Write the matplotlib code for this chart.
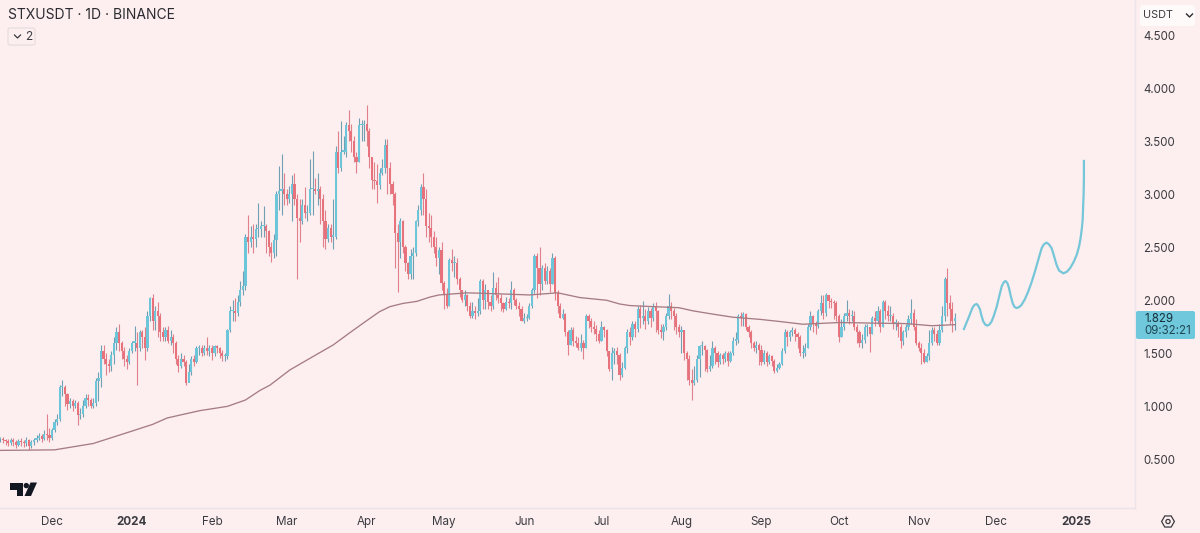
import matplotlib
matplotlib.use("Agg")
import matplotlib.dates as mdates
import matplotlib.pyplot as plt
import pandas as pd
from matplotlib.patches import Circle, FancyBboxPatch, Polygon, RegularPolygon

plt.rcParams["font.family"] = ["Inter", "DejaVu Sans"]

# Daily candles, first bar is 2023-11-11
closes = [
    .69, .68, .67, .65, .68, .66, .64, .67, .66, .65,
    .68, .63, .66, .68, .70, .72, .69, .74, .73, .70,
    .78, .85, .88, 1.18, 1.18, 1.12, 1.02, 1.05, 1.00, 1.03,
    .92, .93, 1.00, 1.08, 1.06, 1.00, 1.03, 1.24, 1.27, 1.52,
    1.45, 1.40, 1.38, 1.48, 1.60, 1.70, 1.60, 1.52, 1.45, 1.42,
    1.52, 1.60, 1.60, 1.55, 1.70, 1.65, 1.55, 1.85, 2.02, 1.80,
    1.90, 1.85, 1.70, 1.65, 1.72, 1.62, 1.65, 1.60, 1.45, 1.38,
    1.45, 1.42, 1.22, 1.32, 1.45, 1.42, 1.55, 1.55, 1.50, 1.55,
    1.52, 1.55, 1.50, 1.57, 1.55, 1.50, 1.47, 1.47, 1.72, 1.90,
    1.90, 1.88, 1.98, 2.10, 2.13, 2.60, 2.55, 2.60, 2.58, 2.67,
    2.67, 2.70, 2.70, 2.65, 2.50, 2.45, 2.57, 3.00, 3.03, 3.05,
    3.00, 2.95, 3.00, 3.10, 2.95, 2.78, 2.75, 2.90, 2.82, 2.82,
    3.05, 3.05, 3.03, 3.05, 2.95, 2.75, 2.58, 2.68, 2.60, 2.60,
    3.40, 3.25, 3.40, 3.40, 3.65, 3.60, 3.50, 3.35, 3.30, 3.65,
    3.65, 3.66, 3.60, 3.35, 3.13, 3.12, 3.09, 3.20, 3.25, 3.46,
    3.25, 3.10, 3.00, 2.63, 2.55, 2.75, 2.50, 2.35, 2.25, 2.42,
    2.45, 2.75, 2.85, 3.07, 2.95, 2.70, 2.68, 2.60, 2.50, 2.40,
    2.47, 2.16, 2.05, 1.95, 2.38, 2.35, 2.35, 2.20, 2.10, 2.00,
    2.05, 1.95, 1.85, 1.90, 1.88, 1.90, 2.18, 2.00, 2.10, 1.98,
    1.95, 2.12, 2.05, 2.02, 1.97, 1.92, 1.98, 1.97, 2.10, 2.00,
    1.95, 1.92, 1.80, 1.83, 1.83, 1.95, 2.10, 2.42, 2.30, 2.15,
    2.30, 2.18, 2.28, 2.15, 2.40, 2.07, 1.95, 1.83, 1.87, 1.70,
    1.58, 1.72, 1.62, 1.60, 1.55, 1.60, 1.55, 1.85, 1.80, 1.75,
    1.73, 1.68, 1.62, 1.75, 1.72, 1.52, 1.35, 1.50, 1.52, 1.48,
    1.30, 1.36, 1.55, 1.70, 1.65, 1.78, 1.73, 1.92, 1.83, 1.85,
    1.80, 1.90, 1.83, 1.95, 1.90, 1.72, 1.70, 1.75, 1.85, 1.95,
    1.90, 1.85, 1.75, 1.70, 1.72, 1.50, 1.45, 1.25, 1.22, 1.25,
    1.45, 1.57, 1.57, 1.53, 1.35, 1.38, 1.55, 1.50, 1.42, 1.48,
    1.45, 1.50, 1.43, 1.50, 1.62, 1.63, 1.85, 1.83, 1.87, 1.75,
    1.70, 1.60, 1.55, 1.58, 1.53, 1.42, 1.50, 1.42, 1.47, 1.43,
    1.33, 1.36, 1.40, 1.52, 1.70, 1.65, 1.70, 1.72, 1.68, 1.65,
    1.50, 1.50, 1.55, 1.75, 1.85, 1.78, 1.76, 1.90, 1.97, 1.88,
    2.05, 1.99, 1.98, 1.97, 1.85, 1.65, 1.75, 1.85, 1.88, 1.85,
    1.85, 1.75, 1.70, 1.60, 1.63, 1.75, 1.75, 1.68, 1.83, 1.80,
    1.90, 1.75, 1.98, 1.90, 1.85, 1.85, 1.78, 1.78, 1.75, 1.62,
    1.70, 1.75, 1.82, 1.88, 1.75, 1.60, 1.55, 1.50, 1.42, 1.47,
    1.60, 1.72, 1.68, 1.60, 1.72, 1.85, 2.20, 1.97, 1.92, 1.80, 1.829,
]
highs = [
    .71, .71, .69, .69, .70, .70, .68, .69, .70, .68,
    .71, .69, .68, .70, .73, .75, .74, .78, .93, .80,
    .80, .88, .93, 1.20, 1.25, 1.20, 1.13, 1.08, 1.07, 1.06,
    1.05, .98, 1.06, 1.12, 1.12, 1.08, 1.08, 1.27, 1.32, 1.58,
    1.58, 1.50, 1.45, 1.52, 1.65, 1.75, 1.78, 1.62, 1.56, 1.48,
    1.55, 1.62, 1.76, 1.70, 1.72, 1.72, 1.75, 1.90, 2.03, 2.06,
    1.95, 1.98, 1.88, 1.75, 1.75, 1.76, 1.72, 1.68, 1.62, 1.48,
    1.50, 1.48, 1.44, 1.40, 1.47, 1.48, 1.57, 1.58, 1.58, 1.58,
    1.65, 1.58, 1.58, 1.58, 1.58, 1.56, 1.53, 1.50, 1.73, 1.95,
    2.00, 2.02, 2.05, 2.18, 2.28, 2.62, 2.80, 2.70, 2.72, 2.72,
    2.92, 2.75, 2.89, 2.72, 2.66, 2.55, 2.62, 3.03, 3.27, 3.38,
    3.20, 3.05, 3.08, 3.18, 3.20, 3.00, 2.95, 2.95, 3.07, 2.90,
    3.33, 3.41, 3.15, 3.20, 3.08, 3.00, 2.85, 2.72, 2.72, 2.95,
    3.45, 3.60, 3.69, 3.55, 3.68, 3.79, 3.66, 3.55, 3.40, 3.72,
    3.70, 3.70, 3.84, 3.62, 3.35, 3.30, 3.28, 3.25, 3.33, 3.52,
    3.52, 3.30, 3.12, 3.02, 2.72, 2.78, 2.76, 2.52, 2.36, 2.48,
    2.50, 2.76, 2.90, 3.10, 3.20, 3.05, 2.82, 2.80, 2.65, 2.60,
    2.50, 2.55, 2.18, 2.12, 2.40, 2.48, 2.42, 2.40, 2.22, 2.10,
    2.10, 2.06, 1.98, 1.98, 1.95, 2.02, 2.20, 2.20, 2.15, 2.08,
    2.05, 2.27, 2.17, 2.22, 2.06, 1.98, 2.03, 2.02, 2.18, 2.12,
    2.02, 1.98, 1.95, 1.88, 1.87, 1.97, 2.12, 2.44, 2.45, 2.50,
    2.33, 2.35, 2.32, 2.30, 2.45, 2.42, 2.10, 1.97, 1.92, 1.88,
    1.72, 1.75, 1.75, 1.66, 1.65, 1.68, 1.63, 1.87, 1.87, 1.83,
    1.80, 1.77, 1.72, 1.80, 1.76, 1.73, 1.52, 1.56, 1.55, 1.56,
    1.50, 1.42, 1.57, 1.73, 1.75, 1.80, 1.80, 1.95, 1.96, 1.99,
    1.92, 1.94, 1.93, 1.97, 1.98, 1.91, 1.78, 1.78, 1.88, 2.06,
    1.98, 1.93, 1.88, 1.78, 1.76, 1.72, 1.52, 1.48, 1.35, 1.38,
    1.48, 1.58, 1.62, 1.58, 1.54, 1.48, 1.62, 1.57, 1.52, 1.50,
    1.50, 1.52, 1.52, 1.52, 1.65, 1.70, 1.87, 1.89, 1.89, 1.88,
    1.77, 1.72, 1.62, 1.62, 1.60, 1.58, 1.53, 1.52, 1.49, 1.48,
    1.45, 1.40, 1.42, 1.55, 1.73, 1.72, 1.72, 1.75, 1.74, 1.70,
    1.67, 1.58, 1.60, 1.78, 1.90, 1.86, 1.80, 1.92, 2.05, 2.05,
    2.07, 2.05, 2.02, 2.00, 1.99, 1.87, 1.82, 1.88, 2.00, 1.92,
    1.91, 1.90, 1.78, 1.72, 1.68, 1.78, 1.78, 1.75, 1.85, 1.90,
    1.95, 1.92, 2.00, 2.00, 1.96, 1.95, 1.88, 1.82, 1.80, 1.78,
    1.72, 1.78, 1.86, 2.01, 1.92, 1.82, 1.62, 1.60, 1.54, 1.50,
    1.72, 1.75, 1.75, 1.72, 1.78, 1.95, 2.22, 2.30, 2.05, 1.98, 1.88,
]
lows = [
    .66, .65, .64, .63, .64, .63, .61, .63, .63, .62,
    .63, .59, .61, .64, .66, .68, .66, .68, .68, .66,
    .68, .76, .82, .86, 1.10, 1.00, .97, .98, .96, .98,
    .82, .88, .90, .98, 1.00, .98, .98, 1.00, 1.05, 1.18,
    1.40, 1.30, 1.32, 1.33, 1.40, 1.53, 1.52, 1.45, 1.38, 1.35,
    1.40, 1.50, 1.52, 1.20, 1.52, 1.55, 1.44, 1.52, 1.80, 1.72,
    1.72, 1.65, 1.62, 1.62, 1.62, 1.60, 1.58, 1.50, 1.40, 1.32,
    1.36, 1.38, 1.20, 1.245, 1.30, 1.38, 1.41, 1.48, 1.47, 1.48,
    1.48, 1.47, 1.44, 1.47, 1.50, 1.46, 1.43, 1.43, 1.45, 1.70,
    1.80, 1.80, 1.85, 1.95, 2.05, 2.10, 2.45, 2.50, 2.45, 2.50,
    2.60, 2.60, 2.60, 2.45, 2.42, 2.36, 2.40, 2.42, 2.85, 2.80,
    2.90, 2.90, 2.92, 2.75, 2.90, 2.20, 2.55, 2.72, 2.78, 2.75,
    2.80, 2.80, 3.00, 2.90, 2.72, 2.50, 2.48, 2.55, 2.55, 2.48,
    2.58, 3.20, 3.22, 3.38, 3.35, 3.50, 3.40, 3.30, 3.20, 3.30,
    3.50, 3.50, 3.45, 3.25, 3.05, 3.05, 2.92, 3.05, 3.18, 3.20,
    3.00, 3.00, 2.90, 2.30, 2.08, 2.40, 2.45, 2.28, 2.20, 2.20,
    2.20, 2.42, 2.70, 2.80, 2.80, 2.60, 2.55, 2.50, 2.45, 2.32,
    2.25, 2.10, 1.92, 1.93, 1.95, 2.28, 2.22, 2.15, 2.03, 1.98,
    1.95, 1.90, 1.83, 1.83, 1.82, 1.85, 1.87, 1.92, 1.92, 1.92,
    1.90, 1.92, 2.00, 1.97, 1.90, 1.89, 1.91, 1.93, 1.92, 1.96,
    1.92, 1.85, 1.80, 1.79, 1.80, 1.82, 1.93, 2.07, 2.02, 2.05,
    2.10, 2.15, 2.15, 2.08, 2.15, 2.00, 1.88, 1.83, 1.82, 1.66,
    1.48, 1.58, 1.57, 1.56, 1.53, 1.52, 1.45, 1.55, 1.74, 1.70,
    1.68, 1.62, 1.60, 1.62, 1.65, 1.47, 1.33, 1.25, 1.40, 1.40,
    1.25, 1.28, 1.35, 1.50, 1.58, 1.63, 1.65, 1.70, 1.74, 1.78,
    1.73, 1.78, 1.75, 1.80, 1.70, 1.68, 1.64, 1.63, 1.72, 1.82,
    1.82, 1.72, 1.68, 1.65, 1.50, 1.44, 1.25, 1.20, 1.06, 1.20,
    1.23, 1.28, 1.48, 1.33, 1.32, 1.33, 1.36, 1.40, 1.37, 1.40,
    1.40, 1.42, 1.38, 1.42, 1.48, 1.58, 1.60, 1.76, 1.76, 1.72,
    1.65, 1.55, 1.52, 1.50, 1.39, 1.39, 1.40, 1.38, 1.40, 1.38,
    1.31, 1.32, 1.35, 1.39, 1.50, 1.57, 1.62, 1.66, 1.62, 1.55,
    1.47, 1.46, 1.47, 1.55, 1.72, 1.70, 1.68, 1.74, 1.86, 1.82,
    1.85, 1.93, 1.93, 1.82, 1.80, 1.61, 1.65, 1.72, 1.80, 1.78,
    1.80, 1.72, 1.60, 1.56, 1.55, 1.60, 1.66, 1.51, 1.68, 1.76,
    1.78, 1.70, 1.75, 1.82, 1.80, 1.80, 1.73, 1.72, 1.65, 1.55,
    1.58, 1.65, 1.72, 1.78, 1.72, 1.58, 1.52, 1.40, 1.41, 1.42,
    1.44, 1.58, 1.62, 1.58, 1.58, 1.70, 1.80, 1.85, 1.78, 1.70, 1.72,
]

# Moving average, as day offsets from the first bar
ma_days = [0, 21, 26, 36, 43.7, 51.4, 59, 64.6, 70, 77.4, 88, 95, 100.6, 104.5, 112.2, 120, 129, 135.5,
           142, 147, 151, 156, 161.5, 166.5, 170, 175.5, 181, 193.7, 205, 216, 224.7, 235, 240, 244,
           253, 263, 268.5, 276, 284, 294.4, 302, 311, 325, 351, 361, 370]
ma_values = [.585, .59, .61, .65, .71, .77, .83, .89, .92, .96, 1.0, 1.06, 1.15, 1.20, 1.343, 1.453, 1.579, 1.695,
             1.808, 1.893, 1.94, 1.97, 1.99, 2.03, 2.05, 2.06, 2.07, 2.06, 2.05, 2.07, 2.025, 2.0, 1.965, 1.95,
             1.94, 1.93, 1.90, 1.87, 1.84, 1.82, 1.80, 1.774, 1.79, 1.78, 1.76, 1.77]

# Hand drawn projection
path_days = [373.5, 374.3, 375.2, 376.1, 376.9, 377.6, 378.4, 379.0, 379.7, 380.3, 381.0, 381.8, 382.5, 383.3,
             384.2, 385.1, 386.2, 387.2, 388.1, 388.9, 389.6, 390.3, 390.9, 391.6, 392.4, 393.1, 393.9, 394.8,
             395.8, 397.1, 398.4, 399.7, 401.0, 402.3, 403.6, 404.5, 405.5, 406.4, 407.5, 408.4, 409.4, 410.4,
             412.0, 413.3, 414.6, 415.9, 417.2, 418.1, 418.7, 419.2, 419.5, 419.7, 419.9, 420.0, 420.0]
path_values = [1.729, 1.777, 1.830, 1.887, 1.934, 1.956, 1.965, 1.949, 1.915, 1.855, 1.799, 1.770, 1.761, 1.770,
               1.799, 1.855, 1.940, 2.041, 2.129, 2.169, 2.182, 2.163, 2.122, 2.044, 1.971, 1.937, 1.927, 1.934,
               1.956, 2.009, 2.081, 2.169, 2.270, 2.380, 2.490, 2.528, 2.543, 2.528, 2.490, 2.418, 2.333, 2.279,
               2.254, 2.267, 2.301, 2.355, 2.427, 2.506, 2.584, 2.678, 2.757, 2.883, 3.008, 3.165, 3.313]

tick_dates = ["2023-12-01", "2024-01-01", "2024-02-01", "2024-03-01", "2024-04-01", "2024-05-01", "2024-06-01",
              "2024-07-01", "2024-08-01", "2024-09-01", "2024-10-01", "2024-11-01", "2024-12-01", "2025-01-01"]
tick_labels = ["Dec", "2024", "Feb", "Mar", "Apr", "May", "Jun", "Jul", "Aug", "Sep", "Oct", "Nov", "Dec", "2025"]
price_ticks = [0.5, 1.0, 1.5, 2.0, 2.5, 3.0, 3.5, 4.0, 4.5]

bg = "#fdeff0"
up_color = "#6cc5d8"
down_color = "#e8727b"
up_wick = "#6f9fb0"
down_wick = "#e0808a"
text_color = "#3a3a40"
line_color = "#ece3e8"

start = pd.Timestamp("2023-11-11")
t0 = mdates.date2num(start)
dates = [t0 + i for i in range(len(closes))]
opens = [closes[0]] + closes[:-1]

fig = plt.figure(figsize=(12, 5.33), dpi=100, facecolor=bg)
ax = fig.add_axes([0, 25 / 533, 1135 / 1200, 508 / 533], facecolor=bg)

for i in range(len(closes)):
    rising = closes[i] >= opens[i]
    ax.vlines(dates[i], lows[i], highs[i], color=up_wick if rising else down_wick, lw=0.8, zorder=2)
    ax.bar(dates[i], max(abs(closes[i] - opens[i]), 0.012), bottom=min(opens[i], closes[i]), width=0.85,
           color=up_color if rising else down_color, zorder=3)

ax.plot([t0 + d for d in ma_days], ma_values, color="#a67c84", lw=0.95, zorder=4)
ax.plot([t0 + d for d in path_days], path_values, color="#74c6d8", lw=1.6, solid_joinstyle="round", zorder=4)

ax.set_xlim(t0 - 0.15, t0 + 439.8)
ax.set_ylim(0.042, 4.83)
ax.set_xticks(mdates.date2num(pd.to_datetime(tick_dates)))
ax.set_xticklabels(tick_labels, fontsize=8.4, color=text_color)
for label in ax.get_xticklabels():
    if label.get_text() in ("2024", "2025"):
        label.set_fontweight("bold")
ax.yaxis.tick_right()
ax.set_yticks(price_ticks)
ax.set_yticklabels([f"{p:.3f}" for p in price_ticks], fontsize=8.3, color=text_color)
ax.tick_params(axis="both", length=0)
ax.tick_params(axis="x", pad=6)
ax.tick_params(axis="y", pad=6)
for side in ("top", "left"):
    ax.spines[side].set_visible(False)
for side in ("bottom", "right"):
    ax.spines[side].set_color(line_color)
    ax.spines[side].set_linewidth(1.0)

# Overlay in pixel coordinates for the TradingView chrome
ui = fig.add_axes([0, 0, 1, 1], facecolor="none")
ui.set_xlim(0, 1200)
ui.set_ylim(533, 0)
ui.axis("off")

ui.text(8, 15, "STXUSDT · 1D · BINANCE", fontsize=10.0, color="#2a2a30", va="center", ha="left")

ui.add_patch(FancyBboxPatch((8, 28), 27, 17, boxstyle="round,pad=0,rounding_size=2", fc=bg, ec="#e6dcdf", lw=0.9))
ui.plot([14.5, 17.5, 20.5], [35, 38, 35], color="#3a3a40", lw=0.9)
ui.text(25, 36.5, "2", fontsize=8.6, color=text_color, va="center", ha="left")

# USDT button
ui.add_patch(FancyBboxPatch((1140, 5), 55, 21, boxstyle="round,pad=0,rounding_size=3", fc="#fffafa", ec="none"))
ui.text(1143, 15.5, "USDT", fontsize=7.8, color=text_color, va="center", ha="left")
ui.plot([1186.5, 1189.5, 1192.5], [14, 17, 14], color="#2a2a30", lw=1.0)

# Last price tag
ui.add_patch(FancyBboxPatch((1136, 311), 59, 28, boxstyle="round,pad=0,rounding_size=2", fc="#6fc8dc", ec="none"))
ui.text(1144, 318.5, "1.829", fontsize=8.3, color="#17303a", va="center", ha="left")
ui.text(1144, 331.5, "09:32:21", fontsize=8.3, color="#1f4653", va="center", ha="left")

# Logo
ui.add_patch(Polygon([(10, 482.5), (23, 482.5), (23, 496), (16.5, 496), (16.5, 489.5), (10, 489.5)], fc="#131722", ec="none"))
ui.add_patch(Circle((26.3, 485.6), 2.7, fc="#131722", ec="none"))
ui.add_patch(Polygon([(37, 482.5), (30.5, 482.5), (24.5, 496), (31, 496)], fc="#131722", ec="none"))

# Settings icon
ui.add_patch(RegularPolygon((1168, 521.5), 6, radius=6.4, orientation=3.14159 / 6, fc="none", ec="#3a3a40", lw=0.9))
ui.add_patch(Circle((1168, 521.5), 2.1, fc="none", ec="#3a3a40", lw=0.9))

fig.savefig("out.png", dpi=100, facecolor=bg)
